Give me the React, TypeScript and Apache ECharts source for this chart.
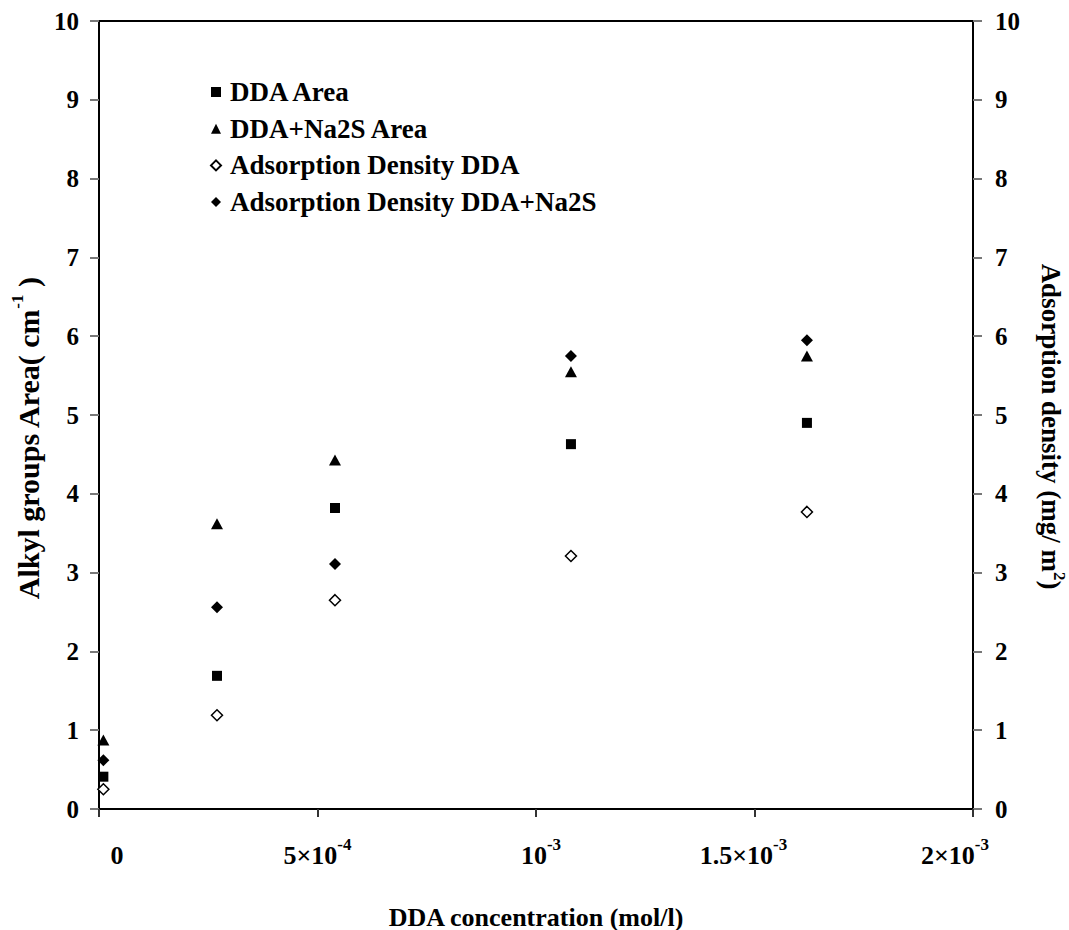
import React, { useEffect, useRef } from 'react';
import * as echarts from 'echarts';

// ---- data ----
const concentrations = [0.00001, 0.00027, 0.00054, 0.00108, 0.00162];
const ddaArea = [0.41, 1.69, 3.82, 4.63, 4.9];
const ddaNa2sArea = [0.875, 3.62, 4.43, 5.55, 5.75];
const adsDensityDda = [0.25, 1.19, 2.65, 3.21, 3.77];
const adsDensityDdaNa2s = [0.62, 2.56, 3.11, 5.75, 5.95];
const seriesNames = [
  'DDA Area',
  'DDA+Na2S Area',
  'Adsorption Density DDA',
  'Adsorption Density DDA+Na2S',
];
const xTickBases = ['0', '5×10', '10', '1.5×10', '2×10'];
const xTickExps = ['', '-4', '-3', '-3', '-3'];

// ---- styling ----
const FONT = "'Liberation Serif', 'Times New Roman', serif";
const xLabelShift = [18, 0, 5, -11, -18];

function buildXRich() {
  const rich: Record<string, any> = {};
  xLabelShift.forEach((s, i) => {
    rich['b' + i] = {
      fontFamily: FONT,
      fontWeight: 'bold',
      fontSize: 26,
      lineHeight: 38,
      color: '#000',
      padding: [0, 0, 0, s > 0 ? 2 * s : 0],
    };
    rich['s' + i] = {
      fontFamily: FONT,
      fontWeight: 'bold',
      fontSize: 17,
      lineHeight: 17,
      verticalAlign: 'top',
      color: '#000',
      padding: [0, s < 0 ? -2 * s : 0, 0, 0],
    };
  });
  return rich;
}

const makeTitleRich = (size: number) => ({
  t: { fontFamily: FONT, fontWeight: 'bold', fontSize: size, lineHeight: size + 8, color: '#000' },
  s: { fontFamily: FONT, fontWeight: 'bold', fontSize: 17, lineHeight: 17, verticalAlign: 'top', color: '#000' },
});

export default function App() {
  const ref = useRef<HTMLDivElement>(null);
  useEffect(() => {
    if (!ref.current) return;
    const chart = echarts.init(ref.current, undefined, { renderer: 'svg' });
    const toPts = (arr: number[]) => concentrations.map((x, i) => [x, arr[i]]);
    const yAxisBase = {
      type: 'value',
      min: 0,
      max: 10,
      interval: 1,
      splitLine: { show: false },
      axisLine: { show: true, lineStyle: { color: '#000', width: 2 } },
      axisTick: { show: true, inside: false, length: 9, lineStyle: { color: '#777', width: 2 } },
      axisLabel: { fontFamily: FONT, fontWeight: 'bold', fontSize: 25, color: '#000', margin: 20 },
      nameLocation: 'middle',
    };
    chart.setOption({
      animation: false,
      backgroundColor: '#fff',
      grid: {
        left: 99,
        right: 96,
        top: 21,
        bottom: 121,
        outerBoundsMode: 'none',
        containLabel: false,
        show: true,
        borderColor: '#000',
        borderWidth: 2,
        backgroundColor: 'transparent',
      },
      legend: {
        orient: 'vertical',
        left: 205,
        top: 72,
        itemWidth: 10,
        itemHeight: 10,
        itemGap: 6.7,
        data: seriesNames,
        textStyle: {
          fontFamily: FONT,
          fontWeight: 'bold',
          fontSize: 27,
          lineHeight: 30,
          color: '#000',
          padding: [0, 0, 0, 4],
        },
      },
      xAxis: {
        type: 'value',
        min: 0,
        max: 0.002,
        interval: 0.0005,
        splitLine: { show: false },
        axisLine: { show: true, lineStyle: { color: '#000', width: 2 } },
        axisTick: { show: true, inside: false, length: 8, lineStyle: { color: '#333', width: 2 } },
        axisLabel: {
          margin: 27,
          showMinLabel: true,
          showMaxLabel: true,
          formatter: (v: number) => {
            const i = Math.round(v / 0.0005);
            if (!xTickExps[i]) return `{b${i}|${xTickBases[i]}}`;
            return `{b${i}|${xTickBases[i]}}{s${i}|${xTickExps[i]}}`;
          },
          rich: buildXRich(),
        },
        name: 'DDA concentration (mol/l)',
        nameLocation: 'middle',
        nameGap: 95,
        nameTextStyle: { fontFamily: FONT, fontWeight: 'bold', fontSize: 26, color: '#000' },
      },
      yAxis: [
        {
          ...yAxisBase,
          position: 'left',
          name: '{t|Alkyl groups Area( cm}{s|-1}{t| )}',
          nameGap: 50,
          nameTextStyle: { rich: makeTitleRich(30), padding: [0, 47, 0, 0] },
        },
        {
          ...yAxisBase,
          position: 'right',
          name: '{t|Adsorption density (mg/ m}{s|2}{t|)}',
          nameGap: 60,
          nameRotate: -90,
          axisLine: { show: true, lineStyle: { color: '#000', width: 1.5 } },
          axisLabel: { fontFamily: FONT, fontWeight: 'bold', fontSize: 25, color: '#000', margin: 22 },
          nameTextStyle: { rich: makeTitleRich(27), padding: [0, 0, 0, 23] },
        },
      ],
      series: [
        {
          name: seriesNames[0],
          type: 'scatter',
          yAxisIndex: 0,
          symbol: 'rect',
          symbolSize: 10,
          itemStyle: { color: '#000', opacity: 1 },
          data: toPts(ddaArea),
        },
        {
          name: seriesNames[1],
          type: 'scatter',
          yAxisIndex: 0,
          symbol: 'triangle',
          symbolSize: [12, 11],
          itemStyle: { color: '#000', opacity: 1 },
          data: toPts(ddaNa2sArea),
        },
        {
          name: seriesNames[2],
          type: 'scatter',
          yAxisIndex: 1,
          symbol: 'diamond',
          symbolSize: 11,
          itemStyle: { color: '#fff', borderColor: '#000', borderWidth: 1.5, opacity: 1 },
          data: toPts(adsDensityDda),
        },
        {
          name: seriesNames[3],
          type: 'scatter',
          yAxisIndex: 1,
          symbol: 'diamond',
          symbolSize: 12,
          itemStyle: { color: '#000', opacity: 1 },
          data: toPts(adsDensityDdaNa2s),
        },
      ],
    });
    return () => chart.dispose();
  }, []);
  return (
    <div
      ref={ref}
      style={{ position: 'fixed', left: 0, top: 0, width: 1069, height: 930, background: '#fff' }}
    />
  );
}
